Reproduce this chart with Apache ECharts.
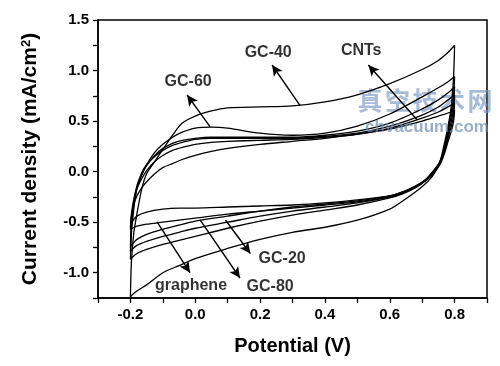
<!DOCTYPE html>
<html><head><meta charset="utf-8">
<script src="https://cdn.jsdelivr.net/npm/echarts@6/dist/echarts.min.js"></script>
<style>html,body{margin:0;padding:0;background:#fff}#c{width:500px;height:366px}</style>
</head><body><div id="c"></div>
<script>
// Potential grids (V) for the anodic (up) and cathodic (down) sweeps
const upPot   = [-0.2,-0.197,-0.19,-0.18,-0.165,-0.15,-0.125,-0.1,-0.07,-0.04,0,0.05,0.1,0.2,0.3,0.4,0.5,0.6,0.7,0.75,0.78,0.8];
const downPot = [0.8,0.797,0.79,0.78,0.77,0.755,0.735,0.71,0.68,0.64,0.6,0.5,0.4,0.3,0.2,0.1,0,-0.05,-0.1,-0.15,-0.18,-0.195,-0.2];

// Current density (mA/cm2) for each sample
const gc40Up   = [-1.24,-0.9,-0.62,-0.42,-0.17,-0.02,0.10,0.22,0.36,0.48,0.55,0.60,0.63,0.64,0.65,0.69,0.76,0.87,1.01,1.10,1.18,1.25];
const gc40Down = [1.25,0.95,0.65,0.45,0.3,0.1,-0.03,-0.12,-0.2,-0.29,-0.37,-0.48,-0.55,-0.60,-0.67,-0.76,-0.86,-0.93,-1.0,-1.12,-1.18,-1.22,-1.24];
const gc60Up   = [-0.87,-0.62,-0.38,-0.16,-0.03,0.07,0.19,0.27,0.34,0.39,0.43,0.44,0.43,0.38,0.36,0.38,0.45,0.57,0.74,0.83,0.89,0.94];
const gc60Down = [0.94,0.75,0.6,0.42,0.26,0.1,0.0,-0.09,-0.16,-0.22,-0.26,-0.33,-0.38,-0.43,-0.49,-0.56,-0.64,-0.68,-0.72,-0.77,-0.81,-0.85,-0.87];
const gc20Up   = [-0.79,-0.55,-0.34,-0.17,-0.03,0.06,0.16,0.23,0.28,0.31,0.33,0.34,0.34,0.34,0.34,0.36,0.40,0.48,0.62,0.71,0.78,0.84];
const gc20Down = [0.84,0.68,0.55,0.4,0.25,0.1,0.01,-0.08,-0.15,-0.21,-0.25,-0.31,-0.35,-0.39,-0.44,-0.50,-0.56,-0.60,-0.64,-0.69,-0.73,-0.77,-0.79];
const gc80Up   = [-0.74,-0.5,-0.3,-0.14,-0.01,0.07,0.15,0.21,0.26,0.29,0.32,0.33,0.33,0.33,0.33,0.35,0.38,0.45,0.56,0.64,0.71,0.76];
const gc80Down = [0.76,0.62,0.5,0.36,0.23,0.09,0.0,-0.08,-0.14,-0.20,-0.24,-0.29,-0.32,-0.35,-0.39,-0.44,-0.49,-0.53,-0.57,-0.62,-0.67,-0.72,-0.74];
const grapheneUp   = [-0.57,-0.45,-0.33,-0.24,-0.16,-0.10,-0.02,0.04,0.08,0.12,0.16,0.2,0.23,0.27,0.30,0.33,0.37,0.43,0.53,0.59,0.64,0.68];
const grapheneDown = [0.68,0.56,0.45,0.33,0.21,0.08,-0.01,-0.09,-0.15,-0.21,-0.25,-0.30,-0.33,-0.36,-0.39,-0.42,-0.46,-0.48,-0.50,-0.52,-0.54,-0.56,-0.57];
const cntsUp   = [-0.55,-0.42,-0.28,-0.17,-0.07,0.01,0.1,0.16,0.21,0.24,0.27,0.29,0.30,0.31,0.32,0.34,0.37,0.42,0.50,0.55,0.58,0.61];
const cntsDown = [0.61,0.5,0.4,0.3,0.19,0.07,-0.02,-0.09,-0.15,-0.2,-0.24,-0.28,-0.31,-0.33,-0.34,-0.35,-0.36,-0.36,-0.37,-0.40,-0.44,-0.5,-0.55];

const loops = [
  ['GC-40', gc40Up, gc40Down],
  ['GC-60', gc60Up, gc60Down],
  ['GC-20', gc20Up, gc20Down],
  ['GC-80', gc80Up, gc80Down],
  ['graphene', grapheneUp, grapheneDown],
  ['CNTs', cntsUp, cntsDown]
];

// Tick labels
const xLabels = [-0.2,0,0.2,0.4,0.6,0.8];
const yLabels = [-1.0,-0.5,0,0.5,1.0,1.5];

// Annotation texts (data coordinates) and arrows [tail, tip]
const noteNames = ['GC-40','CNTs','GC-60','graphene','GC-20','GC-80'];
const noteX = [0.225,0.512,-0.022,-0.013,0.268,0.231];
const noteY = [1.18,1.20,0.887,-1.13,-0.864,-1.141];
const arrowTail = [[0.324,0.65],[0.685,0.51],[0.046,0.442],[-0.118,-0.498],[0.015,-0.478],[0.093,-0.478]];
const arrowTip  = [[0.237,1.055],[0.534,1.055],[-0.025,0.758],[-0.016,-1.0],[0.138,-1.052],[0.17,-0.81]];

const font = 'Liberation Sans, Arial, sans-serif';
const series = loops.map(([name, up, down]) => ({
  name, type: 'line', smooth: 0.3, symbol: 'none',
  lineStyle: {color: '#000', width: 1.3},
  data: upPot.map((x,i)=>[x, up[i]]).concat(downPot.map((x,i)=>[x, down[i]]))
}));
series.push({
  type: 'scatter', symbolSize: 0, silent: true,
  data: noteNames.map((n,i)=>({name:n, value:[noteX[i], noteY[i]]})),
  label: {show: true, position: 'inside', formatter: '{b}', color: '#000', fontWeight: 'bold', fontSize: 16, fontFamily: font}
});
series.push({
  type: 'line', data: [], silent: true,
  markLine: {
    silent: true, symbol: ['none','arrow'], symbolSize: [8, 11],
    lineStyle: {color: '#000', width: 1.4, type: 'solid'},
    itemStyle: {color: '#000'},
    label: {show: false},
    emphasis: {disabled: true},
    data: arrowTail.map((t,i)=>[{coord: t}, {coord: arrowTip[i]}])
  }
});

const chart = echarts.init(document.getElementById('c'));
chart.setOption({
  animation: false,
  backgroundColor: '#fff',
  grid: {left: 98, top: 20, right: 13, bottom: 68, show: true, borderColor: '#000', borderWidth: 1.5, backgroundColor: 'transparent'},
  xAxis: {
    type: 'value', min: -0.3, max: 0.9, interval: 0.1,
    name: 'Potential (V)', nameLocation: 'middle', nameGap: 38,
    nameTextStyle: {fontSize: 20, fontWeight: 'bold', color: '#000', fontFamily: font},
    axisLine: {onZero: false, lineStyle: {color: '#000', width: 1.5}},
    axisTick: {show: true, inside: false, length: 5, lineStyle: {color: '#000', width: 1.3}},
    axisLabel: {customValues: xLabels, formatter: v => v.toFixed(1), color: '#000', fontWeight: 'bold', fontSize: 15, fontFamily: font, margin: 9},
    splitLine: {show: false}
  },
  yAxis: {
    type: 'value', min: -1.25, max: 1.5, interval: 0.25,
    name: '{a|Current density (mA/cm}{s|2}{a|)}', nameLocation: 'middle', nameGap: 57, nameRotate: 90,
    nameTextStyle: {rich: {
      a: {fontSize: 21, fontWeight: 'bold', color: '#000', fontFamily: font},
      s: {fontSize: 13, fontWeight: 'bold', color: '#000', fontFamily: font, verticalAlign: 'top', padding: [0,0,8,0]}
    }},
    axisLine: {onZero: false, lineStyle: {color: '#000', width: 1.5}},
    axisTick: {show: true, inside: false, length: 5, lineStyle: {color: '#000', width: 1.3}},
    axisLabel: {customValues: yLabels, formatter: v => v.toFixed(1), color: '#000', fontWeight: 'bold', fontSize: 15, fontFamily: font, margin: 9},
    splitLine: {show: false}
  },
  series,
  graphic: [
    {type: 'group', z: 100, children: ['真','空','技','术','网'].map((ch,i)=>({
      type: 'text', x: 370 + i*27.5, y: 100,
      style: {text: ch, fontSize: 25, fontFamily: 'Noto Sans CJK SC', fontWeight: 'bold', fill: 'rgba(120,150,195,0.65)', align: 'center', verticalAlign: 'middle'}
    }))},
    {type: 'text', z: 100, x: 427, y: 127,
     style: {text: 'chvacuum.com', fontSize: 17, fontWeight: 'bold', fontFamily: font, fill: 'rgba(110,140,180,0.7)', align: 'center', verticalAlign: 'middle'}}
  ]
});
</script></body></html>
